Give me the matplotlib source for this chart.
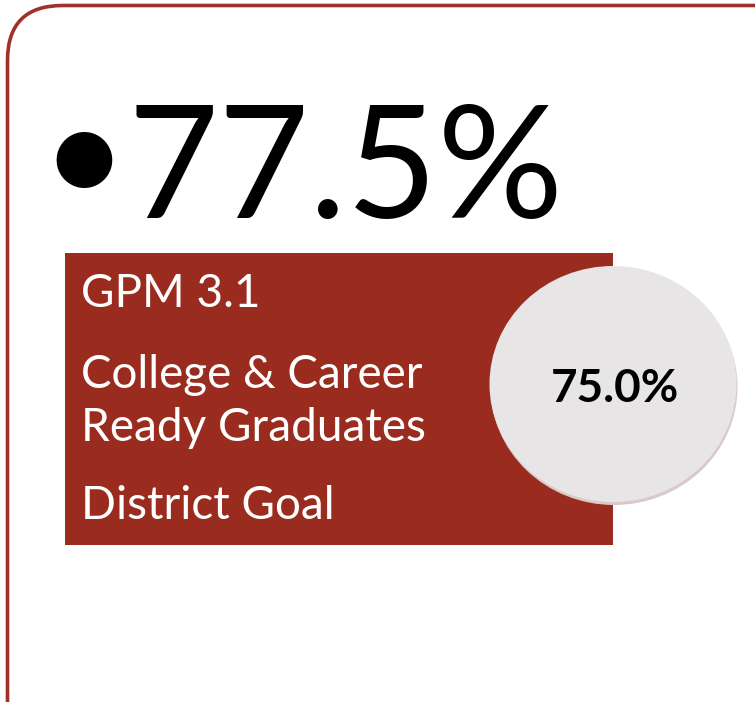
import matplotlib
matplotlib.use("Agg")
import matplotlib.pyplot as plt
from matplotlib.patches import FancyBboxPatch, Rectangle, Ellipse

# values shown on the slide
actual_value = 77.5
goal_value = 75.0
label_lines = ["GPM 3.1", "College & Career", "Ready Graduates", "District Goal"]
label_baselines = [307, 388, 441, 519]

RED = "#9a2b1f"
GREY = "#e7e5e6"
FONT = "Lato"

W, H = 755, 702
fig = plt.figure(figsize=(W / 100, H / 100), dpi=100)
ax = fig.add_axes([0, 0, 1, 1])
ax.set_xlim(0, W)
ax.set_ylim(H, 0)
ax.axis("off")

# outer rounded frame (runs off the right and bottom edges)
frame = FancyBboxPatch((7.5, 5.5), 900, 900, boxstyle="round,pad=0,rounding_size=55",
                       fill=False, ec="#a0302a", lw=2.6)
ax.add_patch(frame)

# big number with bullet
ax.text(84, 205, "\u2022", fontsize=108, family=FONT, color="black",
        ha="center", va="baseline")
ax.text(127, 218, "%.1f%%" % actual_value, fontsize=113, family=FONT,
        color="black", va="baseline")

# red label box
ax.add_patch(Rectangle((65, 253), 548, 292, fc=RED, ec="none"))
for line, y in zip(label_lines, label_baselines):
    ax.text(81, y, line, fontsize=33, family=FONT, color="white", va="baseline")

# goal circle (with a faint shadow underneath)
ax.add_patch(Ellipse((614, 387), 247, 236, fc="#d9c9c8", ec="none"))
ax.add_patch(Ellipse((613, 384), 247, 236, fc=GREY, ec="none"))
ax.text(615, 402, "%.1f%%" % goal_value, fontsize=33, family=FONT, weight="bold",
        color="black", ha="center", va="baseline")

fig.savefig("out.png", dpi=100)
